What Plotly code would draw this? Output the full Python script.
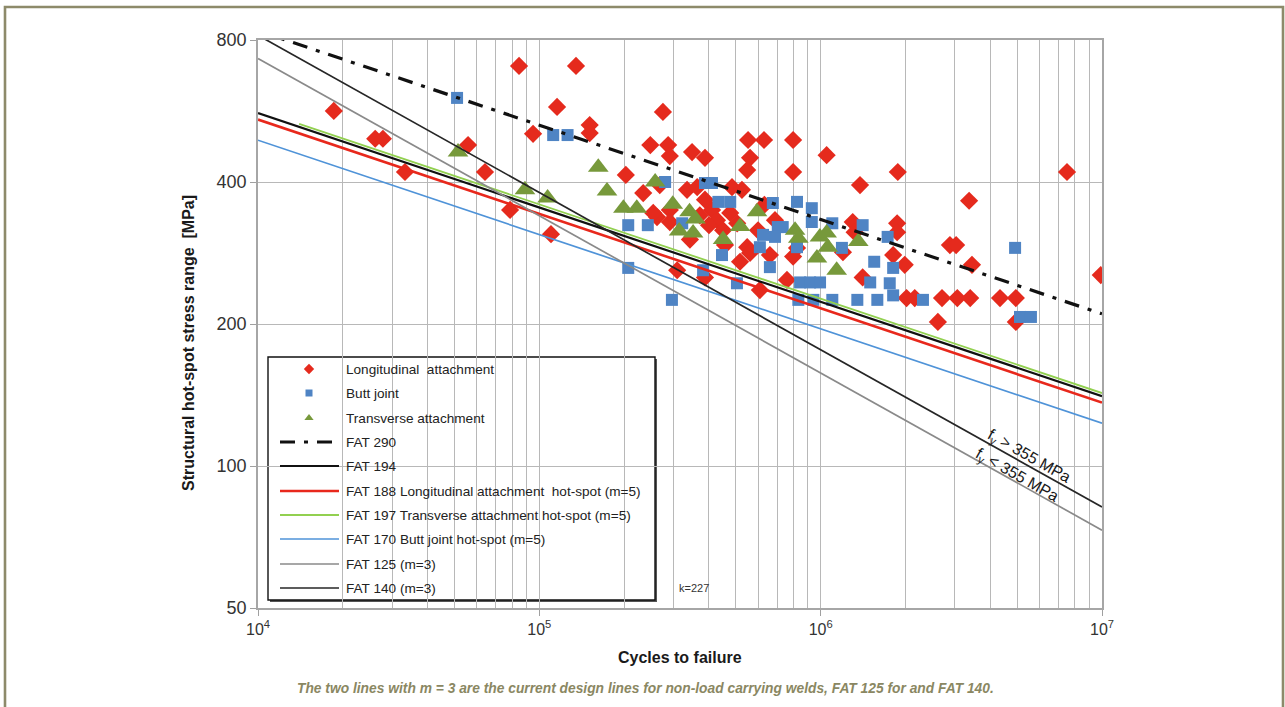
import math
import plotly.graph_objects as go

# ---- Test results: cycles to failure N and structural hot-spot stress range S [MPa]
long_n = [18600, 26100, 27800, 33300, 55800, 64100, 78700, 84700, 95000, 115600,
          110000, 135000, 151000, 151000, 275000, 203000, 248000, 287000, 291000, 349000,
          388000, 234000, 262000, 291000, 552000, 629000, 798000, 561000, 548000, 798000,
          1050000, 484000, 525000, 335000, 364000, 411000, 428000, 477000, 505000, 450000,
          548000, 561000, 388000, 309000, 291000, 254000, 759000, 798000, 824000, 1880000,
          1380000, 7510000, 3370000, 2880000, 3030000, 3450000, 1300000, 1320000, 1870000, 1870000,
          1810000, 1990000, 9900000, 1200000, 1410000, 2020000, 2160000, 2700000, 3060000, 3400000,
          4340000, 4940000, 2610000, 4940000, 388000, 401000, 457000, 517000, 599000, 631000,
          688000, 660000, 608000, 372000, 343000, 268000]
long_s = [566, 494, 494, 420, 479, 420, 349, 705, 506, 577,
          310, 705, 528, 508, 563, 414, 479, 479, 454, 463,
          450, 379, 337, 349, 491, 491, 491, 450, 424, 420,
          456, 390, 385, 385, 390, 349, 332, 344, 327, 316,
          291, 283, 251, 260, 329, 344, 248, 278, 290, 420,
          394, 420, 365, 294, 294, 267, 329, 313, 327, 313,
          280, 267, 254, 284, 251, 227, 227, 227, 227, 227,
          227, 227, 202, 202, 367, 324, 294, 271, 316, 358,
          332, 280, 236, 340, 302, 394]

butt_n = [51000, 112000, 126000, 280000, 388000, 411000, 433000, 477000, 207000, 243000,
          207000, 296000, 446000, 504000, 382000, 608000, 624000, 660000, 676000, 704000,
          733000, 688000, 824000, 930000, 930000, 824000, 845000, 917000, 995000, 833000,
          942000, 1100000, 1100000, 1190000, 1350000, 1410000, 1550000, 1500000, 1590000, 1730000,
          1810000, 1760000, 1810000, 2310000, 4910000, 5110000, 5590000, 322000]
butt_s = [603, 503, 503, 400, 398, 398, 363, 363, 324, 324,
          263, 225, 280, 244, 260, 291, 309, 264, 361, 321,
          321, 306, 363, 352, 329, 291, 245, 245, 245, 225,
          225, 225, 327, 290, 225, 324, 271, 245, 225, 306,
          263, 244, 230, 225, 290, 207, 207, 327]

trans_n = [51400, 88900, 107000, 162000, 174000, 199000, 222000, 258000, 298000, 342000,
           359000, 314000, 352000, 450000, 517000, 594000, 811000, 833000, 994000, 1050000,
           1060000, 970000, 1140000, 1360000]
trans_s = [463, 385, 370, 430, 383, 352, 352, 400, 359, 346,
           334, 315, 312, 302, 322, 346, 316, 304, 306, 312,
           291, 276, 260, 299]

# ---- Design S-N curves: S = FAT * (2e6 / N)^(1/m)
fat_labels = ["FAT 290", "FAT 194", "FAT 188 Longitudinal attachment  hot-spot (m=5)",
              "FAT 197 Transverse attachment hot-spot (m=5)", "FAT 170 Butt joint hot-spot (m=5)",
              "FAT 125 (m=3)", "FAT 140 (m=3)"]
fat_class = [290, 194, 188, 197, 170, 125, 140]
fat_slope = [5, 5, 5, 5, 5, 3, 3]
fat_n_start = [1e4, 1e4, 1e4, 1.4e4, 1e4, 1e4, 1e4]
fat_n_end = [1e7] * 7

series_labels = ["Longitudinal  attachment", "Butt joint", "Transverse attachment"]

x_tick_vals = [1e4, 1e5, 1e6, 1e7]
x_tick_text = ["10<sup>4</sup>", "10<sup>5</sup>", "10<sup>6</sup>", "10<sup>7</sup>"]
y_tick_vals = [50, 100, 200, 400, 800]

# ---- styling
FONT = "Liberation Sans, Arial, sans-serif"
RED, BLUE, GREEN = "#e52a1d", "#4f84c4", "#77993b"
line_styles = [
    dict(color="#111111", width=3.2, dash="15px,9px,4px,9px"),
    dict(color="#111111", width=2.2),
    dict(color="#e8281c", width=2.6),
    dict(color="#92d050", width=1.8),
    dict(color="#4f93d8", width=1.7),
    dict(color="#8a8a8a", width=1.7),
    dict(color="#262626", width=1.7),
]

W, H = 1285, 707
L, R, T, B = 258, 183, 40, 99


def px(xp):
    return (xp - L) / (W - L - R)


def py(yp):
    return (H - B - yp) / (H - T - B)


fig = go.Figure()

fig.add_trace(go.Scatter(x=long_n, y=long_s, mode="markers", name=series_labels[0],
                         marker=dict(symbol="diamond", size=14, color=RED, line=dict(width=0))))
fig.add_trace(go.Scatter(x=butt_n, y=butt_s, mode="markers", name=series_labels[1],
                         marker=dict(symbol="square", size=12, color=BLUE, line=dict(width=0))))
fig.add_trace(go.Scatter(x=trans_n, y=trans_s, mode="markers", name=series_labels[2],
                         marker=dict(symbol="triangle-up", size=18, color=GREEN, line=dict(width=0))))

for lab, fat, m, n0, n1, st in zip(fat_labels, fat_class, fat_slope, fat_n_start, fat_n_end, line_styles):
    ns = [n0, n1]
    ss = [fat * (2e6 / n) ** (1.0 / m) for n in ns]
    fig.add_trace(go.Scatter(x=ns, y=ss, mode="lines", name=lab, line=st))

# ---- legend box drawn on an overlay axis in paper units
rows = [369, 393, 418, 442, 466, 491, 515, 539, 564, 588]
sym = [("diamond", RED, 8), ("square", BLUE, 7), ("triangle-up", GREEN, 8)]
for i, (s, c, sz) in enumerate(sym):
    fig.add_trace(go.Scatter(x=[px(309)], y=[py(rows[i])], mode="markers", xaxis="x2", yaxis="y2",
                             marker=dict(symbol=s, size=sz, color=c), showlegend=False, hoverinfo="skip"))
for j, st in enumerate(line_styles):
    fig.add_trace(go.Scatter(x=[px(280), px(339)], y=[py(rows[3 + j])] * 2, mode="lines",
                             xaxis="x2", yaxis="y2", line=st, showlegend=False, hoverinfo="skip"))

shapes = [
    dict(type="rect", xref="paper", yref="paper", x0=px(270), x1=px(657), y0=py(359), y1=py(602),
         fillcolor="#555555", line=dict(width=0), layer="between"),
    dict(type="rect", xref="paper", yref="paper", x0=px(268), x1=px(655), y0=py(357), y1=py(600),
         fillcolor="white", line=dict(color="#111111", width=1.4), layer="between"),
    dict(type="rect", xref="paper", yref="paper", x0=px(5), x1=px(1283), y0=py(7), y1=py(740),
         line=dict(color="#8d8a6a", width=2.6), layer="above"),
]

annotations = []
for lab, yrow in zip(series_labels + fat_labels, rows):
    annotations.append(dict(text=lab, xref="paper", yref="paper", x=px(344), y=py(yrow),
                            xanchor="left", yanchor="middle", showarrow=False,
                            font=dict(family=FONT, size=13.6, color="#222222")))

annotations += [
    dict(text="<b>Structural hot-spot stress range  [MPa]</b>", xref="paper", yref="paper",
         x=px(188), y=py(343), xanchor="center", yanchor="middle", textangle=-90, showarrow=False,
         font=dict(family=FONT, size=16, color="#1a1a1a")),
    dict(text="<b>Cycles to failure</b>", xref="paper", yref="paper", x=px(680), y=py(657),
         xanchor="center", yanchor="middle",
         showarrow=False, font=dict(family=FONT, size=16, color="#1a1a1a")),
    dict(text="k=227", xref="paper", yref="paper", x=px(677), y=py(588), xanchor="left",
         yanchor="middle", showarrow=False, font=dict(family=FONT, size=11, color="#333333")),
    dict(text="f<sub>y</sub> > 355 MPa", xref="paper", yref="paper", x=px(1029), y=py(456),
         xanchor="center", yanchor="middle",
         textangle=29.5, showarrow=False, font=dict(family=FONT, size=16, color="#1a1a1a")),
    dict(text="f<sub>y</sub> < 355 MPa", xref="paper", yref="paper", x=px(1017), y=py(475),
         xanchor="center", yanchor="middle",
         textangle=29.5, showarrow=False, font=dict(family=FONT, size=16, color="#1a1a1a")),
    dict(text="<i>The two lines with m = 3 are the current design lines for non-load carrying welds, "
              "FAT 125 for and FAT 140.</i>", xref="paper", yref="paper", x=px(645), y=py(688),
         xanchor="center", yanchor="middle",
         showarrow=False, font=dict(family=FONT, size=13.8, color="#8a8762", weight="bold")),
]

minor_x = [k * 10 ** e for e in range(4, 7) for k in range(2, 10)]
grid = "#b8b8b8"

fig.update_layout(
    width=W, height=H,
    margin=dict(l=L, r=R, t=T, b=B, autoexpand=False),
    paper_bgcolor="white", plot_bgcolor="white",
    showlegend=False,
    font=dict(family=FONT, color="#333333"),
    xaxis=dict(type="log", range=[4, 7], tickmode="array", tickvals=x_tick_vals, ticktext=x_tick_text,
               ticks="outside", ticklen=6, tickcolor="#a0a0a0", showline=True, linecolor="#a6a6a6",
               linewidth=1.5, mirror=True, showgrid=True, gridcolor=grid, gridwidth=1.4, zeroline=False,
               tickfont=dict(family=FONT, size=16, color="#333333"),
               minor=dict(tickmode="array", tickvals=minor_x, showgrid=True, gridcolor=grid,
                          gridwidth=1.4, ticks="")),
    yaxis=dict(type="log", range=[math.log10(50), math.log10(800)], tickmode="array",
               tickvals=y_tick_vals, ticktext=[str(v) for v in y_tick_vals],
               ticks="outside", ticklen=6, tickcolor="#a0a0a0", showline=True, linecolor="#a6a6a6",
               linewidth=1.5, mirror=True, showgrid=True, gridcolor=grid, gridwidth=1.4, zeroline=False,
               tickfont=dict(family=FONT, size=18, color="#333333")),
    xaxis2=dict(overlaying="x", range=[0, 1], visible=False, fixedrange=True),
    yaxis2=dict(overlaying="y", range=[0, 1], visible=False, fixedrange=True),
    shapes=shapes,
    annotations=annotations,
)

fig.write_html("out.html")
